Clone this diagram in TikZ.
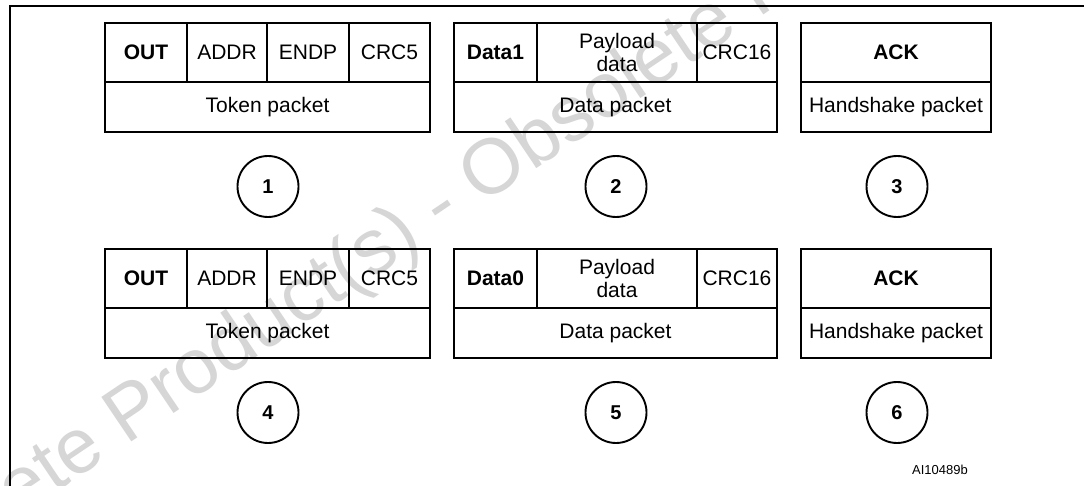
\documentclass[tikz,border=0pt]{standalone}
\usepackage{fontspec}
\setmainfont{Liberation Sans}
\newcommand\pktrow[6]{%
 \begin{scope}[yshift=-#2pt]
  % token packet
  \node[outer, minimum width=325pt, minimum height=109pt] (tok#1) at (267.5,77.5) {};
  \draw[div] (105,82) -- (430,82);
  \draw[div] (187,23) -- (187,82);
  \draw[div] (267,23) -- (267,82);
  \draw[div] (349,23) -- (349,82);
  \node[btxt] (out#1) at (146,52.5) {OUT};
  \node[txt] (addr#1) at (227,52.5) {ADDR};
  \node[txt] (endp#1) at (308,52.5) {ENDP};
  \node[txt] (crcf#1) at (389.5,52.5) {CRC5};
  \node[txt] (tokl#1) at (267.5,107.5) {Token packet};
  % data packet
  \node[outer, minimum width=323pt, minimum height=109pt] (dat#1) at (615.5,77.5) {};
  \draw[div] (454,82) -- (777,82);
  \draw[div] (537,23) -- (537,82);
  \draw[div] (697,23) -- (697,82);
  \node[btxt] (dl#1) at (495.5,52.5) {#3};
  \node[txt] (pay#1) at (617,52) {Payload\\data};
  \node[txt] (crcs#1) at (737,52.5) {CRC16};
  \node[txt] (datl#1) at (615.5,107.5) {Data packet};
  % handshake packet
  \node[outer, minimum width=190pt, minimum height=109pt] (hs#1) at (896,77.5) {};
  \draw[div] (801,82) -- (991,82);
  \node[btxt] (ack#1) at (896,52.5) {ACK};
  \node[txt] (hsl#1) at (896,107.5) {Handshake packet};
  % step numbers
  \node[num] (n#4) at (268,186.5) {#4};
  \node[num] (n#5) at (616,186.5) {#5};
  \node[num] (n#6) at (897,186.5) {#6};
 \end{scope}}
\begin{document}
\begin{tikzpicture}[x=1pt,y=-1pt,
  outer/.style={draw, line width=2.7pt, inner sep=0pt},
  div/.style={line width=1.1pt},
  txt/.style={font=\fontsize{21}{23}\selectfont, inner sep=0pt, align=center},
  btxt/.style={font=\fontsize{21}{23}\selectfont\bfseries, inner sep=0pt, align=center},
  num/.style={draw, circle, line width=1.9pt, minimum size=61pt, inner sep=0pt, font=\fontsize{20}{23}\selectfont\bfseries},
  wm/.style={text=black!16, font=\fontsize{78}{80}\selectfont, rotate=34, inner sep=0pt}]
\useasboundingbox (0,0) rectangle (1084,486);
\clip (0,0) rectangle (1084,486);
\fill[white] (0,0) rectangle (1084,486);
% watermark
\node[wm] (wm1) at (442,208) {Obsolete Product(s) - Obsolete Product(s)};
% frame
\coordinate (fbl) at (10,486);
\coordinate (ftl) at (10,5.8);
\coordinate (ftr) at (1084,5.8);
\draw[line width=2.4pt] (fbl) -- (ftl) -- (ftr);
% rows
\pktrow{a}{0}{Data1}{1}{2}{3}
\pktrow{b}{226}{Data0}{4}{5}{6}
\node[font=\fontsize{13}{15}\selectfont, inner sep=0pt] (code) at (940,470) {AI10489b};
\end{tikzpicture}
\end{document}
